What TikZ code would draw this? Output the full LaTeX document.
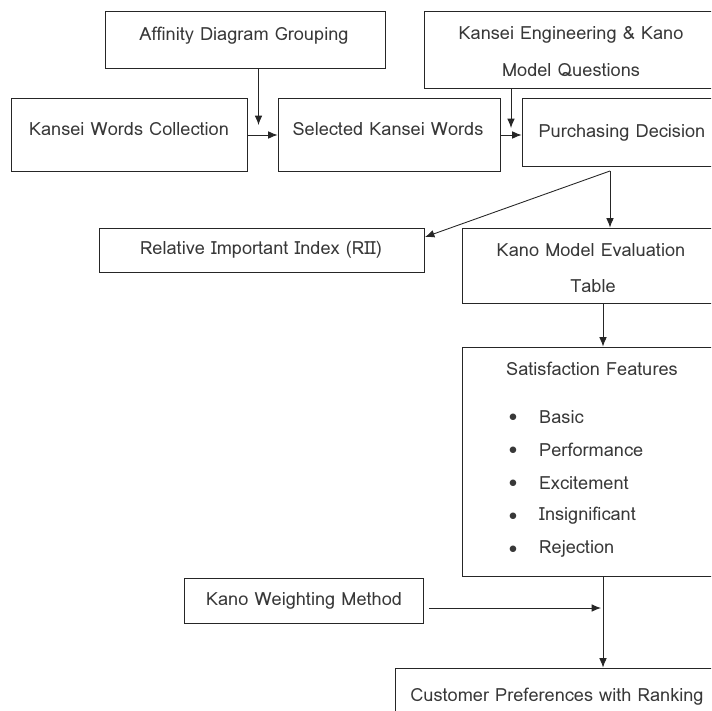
\documentclass[tikz,border=0pt]{standalone}
\usepackage{fontspec}
\newfontfamily\flowfont[Script=Thai]{Loma}
\usetikzlibrary{arrows.meta,fit}
\begin{document}
\begin{tikzpicture}[x=0.03cm,y=-0.03cm,
  box/.style={draw=black!85, line width=0.75pt, inner sep=0pt},
  lbl/.style={inner sep=0pt, font=\flowfont\fontsize{15.5}{17}\selectfont, text=black!78},
  arr/.style={draw=black!85, line width=0.75pt, -{Latex[length=8pt,width=6.5pt]}},
  ln/.style={draw=black!85, line width=0.75pt}]
\useasboundingbox (0,0) rectangle (711,711);
\clip (0,0) rectangle (711,711);

% boxes
\node[box, fit={(105,11) (385,68)}] (aff) {};
\node[box, fit={(424,11) (716,88)}] (ke) {};
\node[box, fit={(11,98) (247,171)}] (kwc) {};
\node[box, fit={(278,98) (500,171)}] (sel) {};
\node[box, fit={(522,98) (716,166)}] (pur) {};
\node[box, fit={(99,228) (424,272)}] (rii) {};
\node[box, fit={(462,228) (716,303)}] (eval) {};
\node[box, fit={(462,347) (716,576)}] (sat) {};
\node[box, fit={(184,578) (423,623)}] (kwm) {};
\node[box, fit={(395,668) (716,720)}] (cust) {};

% texts
\node[lbl] at (244,36) {Affinity Diagram Grouping};
\node[lbl] at (571,35) {Kansei Engineering \& Kano};
\node[lbl] at (571,70) {Model Questions};
\node[lbl] at (129,129) {Kansei Words Collection};
\node[lbl] at (388,129) {Selected Kansei Words};
\node[lbl] at (622,133) {Purchasing Decision};
\node[lbl] at (261,250) {Relative Important Index (RII)};
\node[lbl] at (591,250) {Kano Model Evaluation};
\node[lbl] at (593,286) {Table};
\node[lbl] at (592,369) {Satisfaction Features};
\foreach \t/\yy in {Basic/417,Performance/450,Excitement/483,Insignificant/516,Rejection/549}{
  \node[lbl] at (513,\yy+1) {$\bullet$};
  \node[lbl, anchor=west] at (539,\yy) {\t};
}
\node[lbl] at (304,601) {Kano Weighting Method};
\node[lbl] at (557,697) {Customer Preferences with Ranking};

% connectors
\coordinate (affend) at (258.5,125);
\coordinate (keend) at (511,128);
\coordinate (row) at (0,135);
\coordinate (split) at (610,171);
\coordinate (riitip) at (425,237);
\coordinate (satx) at (603,0);
\coordinate (join) at (601,608);
\coordinate (kwmstart) at (429,608);

\draw[arr] (aff.south -| affend) -- (affend);
\draw[arr] (ke.south -| keend) -- (keend);
\draw[arr] (kwc.east |- row) -- (sel.west |- row);
\draw[arr] (sel.east |- row) -- (pur.west |- row);
\draw[arr] (split) -- (riitip);
\draw[arr] (split) -- (eval.north -| split);
\draw[arr] (eval.south -| satx) -- (sat.north -| satx);
\draw[arr] (sat.south -| satx) -- (cust.north -| satx);
\draw[arr] (kwmstart) -- (join);
\end{tikzpicture}
\end{document}
